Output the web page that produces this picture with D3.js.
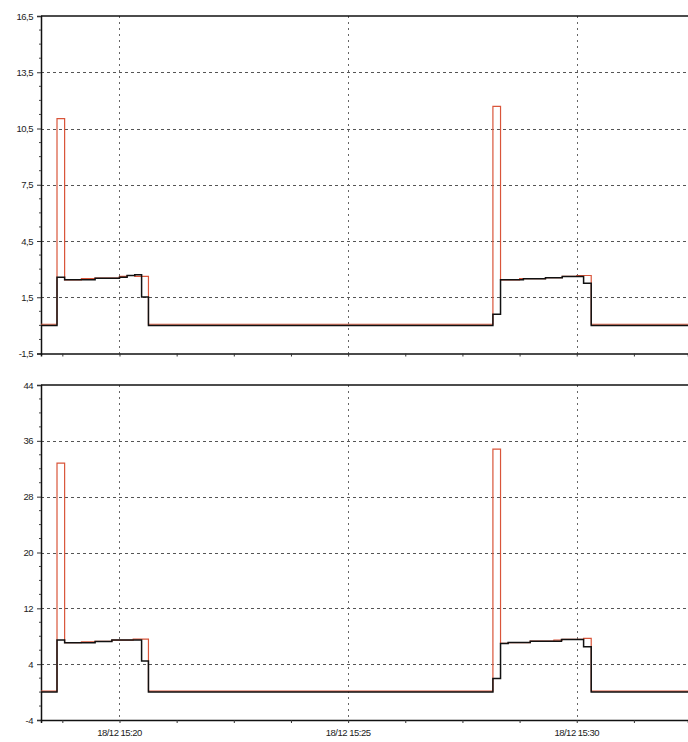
<!DOCTYPE html>
<html>
<head>
<meta charset="utf-8">
<script src="https://cdn.jsdelivr.net/npm/d3@7"></script>
<style>
  html, body { margin: 0; padding: 0; background: #fff; }
  svg { display: block; }
  text { font-family: "Liberation Sans", Arial, sans-serif; fill: #222; }
</style>
</head>
<body>
<svg id="chart" width="688" height="742"></svg>
<script>
// ---------- DATA ----------
const xDomain = ["15:18:17", "15:32:26"];
const xLabelTimes = ["15:20:00", "15:25:00", "15:30:00"];
const xLabelText = ["18/12 15:20", "18/12 15:25", "18/12 15:30"];

const topTicks = [-1.5, 1.5, 4.5, 7.5, 10.5, 13.5, 16.5];
const bottomTicks = [-4, 4, 12, 20, 28, 36, 44];

// top panel
const topBlackTimes = ["15:18:00","15:18:38","15:18:48","15:19:28","15:20:00","15:20:10","15:20:20","15:20:29","15:20:38","15:28:10","15:28:20","15:28:50","15:29:19","15:29:41","15:30:09","15:30:19","15:33:00"];
const topBlackValues = [0, 2.57, 2.43, 2.52, 2.57, 2.66, 2.70, 1.51, 0, 0.59, 2.43, 2.49, 2.54, 2.61, 2.25, 0, 0];
const topRedTimes = ["15:18:00","15:18:38","15:18:48","15:19:10","15:19:28","15:20:00","15:20:10","15:20:20","15:20:38","15:28:10","15:28:20","15:28:45","15:29:19","15:29:41","15:30:00","15:30:19","15:33:00"];
const topRedValues = [0.06, 11.03, 2.43, 2.49, 2.52, 2.61, 2.66, 2.61, 0.06, 11.68, 2.43, 2.49, 2.54, 2.61, 2.66, 0.06, 0.06];

// bottom panel
const botBlackTimes = ["15:18:00","15:18:38","15:18:48","15:19:28","15:19:50","15:20:29","15:20:38","15:28:10","15:28:20","15:28:30","15:28:59","15:29:40","15:30:09","15:30:19","15:33:00"];
const botBlackValues = [0, 7.45, 7.07, 7.26, 7.45, 4.44, 0, 1.96, 6.97, 7.1, 7.3, 7.55, 6.5, 0, 0];
const botRedTimes = ["15:18:00","15:18:38","15:18:48","15:19:10","15:19:28","15:19:50","15:20:18","15:20:38","15:28:10","15:28:20","15:28:30","15:28:59","15:29:30","15:29:41","15:30:09","15:30:19","15:33:00"];
const botRedValues = [0.15, 32.8, 7.07, 7.2, 7.26, 7.45, 7.6, 0.15, 34.8, 6.97, 7.1, 7.3, 7.45, 7.55, 7.7, 0.15, 0.15];

// ---------- CHART ----------
const parseT = d3.timeParse("%Y-%m-%d %H:%M:%S");
const T = s => parseT("2020-12-18 " + s);

const svg = d3.select("#chart");
const left = 41, right = 688;

const x = d3.scaleTime().domain(xDomain.map(T)).range([left, right]);
const majorTimes = xLabelTimes.map(T);
const minorTimes = [];
for (let k = -1; k <= 10; k++) minorTimes.push(new Date(T("15:20:00").getTime() + k * 75000));

const panels = [
  { top: 16, bottom: 353.5, domain: [-1.5, 16.5], ticks: topTicks, fmt: v => String(v).replace(".", ","),
    red: [topRedTimes, topRedValues], black: [topBlackTimes, topBlackValues], labels: false },
  { top: 385, bottom: 720, domain: [-4, 44], ticks: bottomTicks, fmt: v => String(v),
    red: [botRedTimes, botRedValues], black: [botBlackTimes, botBlackValues], labels: true }
];

const red = "#d9553a";

panels.forEach(p => {
  const y = d3.scaleLinear().domain(p.domain).range([p.bottom, p.top]);
  const g = svg.append("g");

  const cid = "clip" + p.top;
  svg.append("clipPath").attr("id", cid).append("rect")
    .attr("x", left).attr("y", p.top - 2).attr("width", right - left).attr("height", p.bottom - p.top + 3);

  // horizontal grid
  g.append("g").selectAll("line").data(p.ticks.slice(1, -1)).join("line")
    .attr("x1", left).attr("x2", right)
    .attr("y1", d => Math.round(y(d)) + 0.5).attr("y2", d => Math.round(y(d)) + 0.5)
    .attr("stroke", "#555").attr("stroke-width", 1).attr("stroke-dasharray", "3,3");

  // vertical grid
  g.append("g").selectAll("line").data(majorTimes).join("line")
    .attr("x1", d => Math.round(x(d)) + 0.5).attr("x2", d => Math.round(x(d)) + 0.5)
    .attr("y1", p.top).attr("y2", p.bottom)
    .attr("stroke", "#666").attr("stroke-width", 1).attr("stroke-dasharray", "2,4");

  // y axis with minor ticks
  const yAxis = d3.axisLeft(y).tickValues(p.ticks).tickFormat(p.fmt).tickSize(4).tickPadding(4);
  const ya = g.append("g").attr("transform", `translate(${left},0)`).call(yAxis);
  ya.select(".domain").attr("stroke", "#111").attr("stroke-width", 1.5);
  ya.selectAll(".tick line").attr("stroke", "#333");
  ya.selectAll(".tick text").attr("font-size", 9.5).attr("font-family", "Liberation Sans, Arial, sans-serif").attr("fill", "#222").attr("letter-spacing", "-0.5");
  const step = (p.ticks[1] - p.ticks[0]) / 4;
  const yMinor = d3.range(p.domain[0], p.domain[1] + 1e-9, step).filter((v, i) => i % 4 !== 0);
  g.append("g").selectAll("line").data(yMinor).join("line")
    .attr("x1", left - 2).attr("x2", left)
    .attr("y1", d => y(d)).attr("y2", d => y(d)).attr("stroke", "#444");

  // top border
  g.append("line").attr("x1", left).attr("x2", right).attr("y1", p.top).attr("y2", p.top)
    .attr("stroke", "#111").attr("stroke-width", 1.5);

  // x axis
  const xAxis = d3.axisBottom(x).tickValues(minorTimes).tickSize(3).tickFormat("");
  const xa = g.append("g").attr("transform", `translate(0,${p.bottom})`).call(xAxis);
  xa.select(".domain").attr("stroke", "#111").attr("stroke-width", 1.5);
  xa.selectAll(".tick line").attr("stroke", "#333");
  if (p.labels) {
    g.append("g").selectAll("text").data(majorTimes).join("text")
      .attr("x", d => x(d)).attr("y", p.bottom + 16)
      .attr("text-anchor", "middle").attr("font-size", 9.5).attr("letter-spacing", "-0.5").attr("fill", "#222")
      .text((d, i) => xLabelText[i]);
  }

  // lines
  const line = d3.line().curve(d3.curveStepAfter).x(d => x(d[0])).y(d => y(d[1]));
  const redData = p.red[0].map((t, i) => [T(t), p.red[1][i]]);
  const blackData = p.black[0].map((t, i) => [T(t), p.black[1][i]]);
  const lg = g.append("g").attr("clip-path", `url(#${cid})`);
  lg.append("path").datum(redData).attr("d", line).attr("fill", "none")
    .attr("stroke", red).attr("stroke-width", 1.2);
  lg.append("path").datum(blackData).attr("d", line).attr("fill", "none")
    .attr("stroke", "#111").attr("stroke-width", 1.5);
});
</script>
</body>
</html>
